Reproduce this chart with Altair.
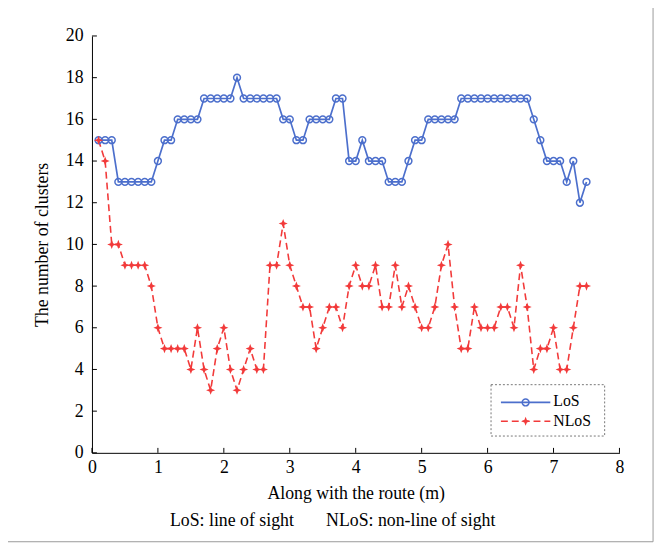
import altair as alt
import pandas as pd

# ---- data ----
x_vals = [0.1, 0.2, 0.3, 0.4, 0.5, 0.6, 0.7, 0.8, 0.9, 1.0,
          1.1, 1.2, 1.3, 1.4, 1.5, 1.6, 1.7, 1.8, 1.9, 2.0,
          2.1, 2.2, 2.3, 2.4, 2.5, 2.6, 2.7, 2.8, 2.9, 3.0,
          3.1, 3.2, 3.3, 3.4, 3.5, 3.6, 3.7, 3.8, 3.9, 4.0,
          4.1, 4.2, 4.3, 4.4, 4.5, 4.6, 4.7, 4.8, 4.9, 5.0,
          5.1, 5.2, 5.3, 5.4, 5.5, 5.6, 5.7, 5.8, 5.9, 6.0,
          6.1, 6.2, 6.3, 6.4, 6.5, 6.6, 6.7, 6.8, 6.9, 7.0,
          7.1, 7.2, 7.3, 7.4, 7.5]
los = [15, 15, 15, 13, 13, 13, 13, 13, 13, 14,
       15, 15, 16, 16, 16, 16, 17, 17, 17, 17,
       17, 18, 17, 17, 17, 17, 17, 17, 16, 16,
       15, 15, 16, 16, 16, 16, 17, 17, 14, 14,
       15, 14, 14, 14, 13, 13, 13, 14, 15, 15,
       16, 16, 16, 16, 16, 17, 17, 17, 17, 17,
       17, 17, 17, 17, 17, 17, 16, 15, 14, 14,
       14, 13, 14, 12, 13]
nlos = [15, 14, 10, 10, 9, 9, 9, 9, 8, 6,
        5, 5, 5, 5, 4, 6, 4, 3, 5, 6,
        4, 3, 4, 5, 4, 4, 9, 9, 11, 9,
        8, 7, 7, 5, 6, 7, 7, 6, 8, 9,
        8, 8, 9, 7, 7, 9, 7, 8, 7, 6,
        6, 7, 9, 10, 7, 5, 5, 7, 6, 6,
        6, 7, 7, 6, 9, 7, 4, 5, 5, 6,
        4, 4, 6, 8, 8]
series_names = ["LoS", "NLoS"]
x_ticks = [0, 1, 2, 3, 4, 5, 6, 7, 8]
y_ticks = [0, 2, 4, 6, 8, 10, 12, 14, 16, 18, 20]
x_title = "Along with the route (m)"
y_title = "The number of clusters"
caption_1 = "LoS: line of sight"
caption_2 = "NLoS: non-line of sight"

df = pd.DataFrame({
    "x": x_vals + x_vals,
    "y": los + nlos,
    "series": [series_names[0]] * len(los) + [series_names[1]] * len(nlos),
})

FONT = "Liberation Serif, Times New Roman, DejaVu Serif, serif"
BLUE = "#4c6fcc"
RED = "#f23a3a"
STAR = "M0,-1L0.28,-0.28L1,0L0.28,0.28L0,1L-0.28,0.28L-1,0L-0.28,-0.28Z"
W, H = 534, 422

xscale = alt.Scale(domain=[0, 8], nice=False, zero=False)
yscale = alt.Scale(domain=[0, 20], nice=False)

xaxis = alt.Axis(values=x_ticks, format="d", grid=False, ticks=False, domainColor="black",
                 labelFont=FONT, labelFontSize=18, labelColor="black", labelPadding=6,
                 labelFlush=False, title=x_title, titleFont=FONT, titleFontSize=18,
                 titleFontWeight="normal", titleColor="black", titlePadding=8)
yaxis = alt.Axis(values=y_ticks, format="d", grid=False, ticks=False, domainColor="black",
                 labelFont=FONT, labelFontSize=18, labelColor="black", labelPadding=9,
                 labelFlush=False, title=y_title, titleFont=FONT, titleFontSize=18,
                 titleFontWeight="normal", titleColor="black", titlePadding=14)

base = alt.Chart(df)

los_line = base.transform_filter(alt.datum.series == "LoS").mark_line(
    color=BLUE, strokeWidth=1.7).encode(
    x=alt.X("x:Q", scale=xscale, axis=xaxis),
    y=alt.Y("y:Q", scale=yscale, axis=yaxis))
los_pts = base.transform_filter(alt.datum.series == "LoS").mark_point(
    shape="circle", filled=False, size=48, strokeWidth=1.5, color=BLUE, opacity=1).encode(
    x=alt.X("x:Q", scale=xscale), y=alt.Y("y:Q", scale=yscale))
nlos_line = base.transform_filter(alt.datum.series == "NLoS").mark_line(
    color=RED, strokeWidth=1.6, strokeDash=[7, 4]).encode(
    x=alt.X("x:Q", scale=xscale), y=alt.Y("y:Q", scale=yscale))
nlos_pts = base.transform_filter(alt.datum.series == "NLoS").mark_point(
    shape=STAR, filled=True, size=85, color=RED, opacity=1).encode(
    x=alt.X("x:Q", scale=xscale), y=alt.Y("y:Q", scale=yscale))

# inward ticks
yt = alt.Chart(pd.DataFrame({"y": y_ticks})).mark_rule(color="black", strokeWidth=1).encode(
    y=alt.Y("y:Q", scale=yscale), x=alt.value(0), x2=alt.value(5))
xt = alt.Chart(pd.DataFrame({"x": x_ticks})).mark_rule(color="black", strokeWidth=1).encode(
    x=alt.X("x:Q", scale=xscale), y=alt.value(H), y2=alt.value(H - 5))

# legend (manual)
one = pd.DataFrame({"a": [0]})
leg_box = alt.Chart(one).mark_rect(fill="white", stroke="#777777", strokeWidth=1,
                                   strokeDash=[2, 2]).encode(
    x=alt.value(404), x2=alt.value(519), y=alt.value(353), y2=alt.value(405))
leg_l1 = alt.Chart(one).mark_rule(color=BLUE, strokeWidth=1.7).encode(
    x=alt.value(414), x2=alt.value(464), y=alt.value(371))
leg_p1 = alt.Chart(one).mark_point(shape="circle", filled=False, size=48, strokeWidth=1.5,
                                   color=BLUE, opacity=1).encode(x=alt.value(439), y=alt.value(371))
leg_l2 = alt.Chart(one).mark_rule(color=RED, strokeWidth=1.6, strokeDash=[7, 4]).encode(
    x=alt.value(414), x2=alt.value(464), y=alt.value(390))
leg_p2 = alt.Chart(one).mark_point(shape=STAR, filled=True, size=85, color=RED,
                                   opacity=1).encode(x=alt.value(439), y=alt.value(390))
leg_t = alt.Chart(pd.DataFrame({"t": series_names, "k": [0, 1]}))
leg_t1 = leg_t.transform_filter(alt.datum.k == 0).mark_text(
    font=FONT, fontSize=16, align="left", baseline="middle", color="black").encode(
    x=alt.value(467), y=alt.value(370), text="t:N")
leg_t2 = leg_t.transform_filter(alt.datum.k == 1).mark_text(
    font=FONT, fontSize=16, align="left", baseline="middle", color="black").encode(
    x=alt.value(467), y=alt.value(390), text="t:N")

# caption
cap = alt.Chart(pd.DataFrame({"t": [caption_1, caption_2], "k": [0, 1]}))
cap1 = cap.transform_filter(alt.datum.k == 0).mark_text(
    font=FONT, fontSize=18, align="left", baseline="middle", color="black").encode(
    x=alt.value(79), y=alt.value(491), text="t:N")
cap2 = cap.transform_filter(alt.datum.k == 1).mark_text(
    font=FONT, fontSize=18, align="left", baseline="middle", color="black").encode(
    x=alt.value(237), y=alt.value(491), text="t:N")

# figure frame (right and bottom edges)
frame_r = alt.Chart(one).mark_rule(color="#999999", strokeWidth=1).encode(
    x=alt.value(568), y=alt.value(-33), y2=alt.value(512))
frame_b = alt.Chart(one).mark_rule(color="#999999", strokeWidth=1).encode(
    x=alt.value(-93), x2=alt.value(568), y=alt.value(512))

chart = alt.layer(
    los_line, nlos_line, los_pts, nlos_pts, yt, xt,
    leg_box, leg_l1, leg_l2, leg_p1, leg_p2, leg_t1, leg_t2,
    cap1, cap2, frame_r, frame_b
).properties(
    width=W, height=H,
    autosize=alt.AutoSizeParams(type="none"),
    padding={"left": 85, "top": 25, "right": 38, "bottom": 92},
).configure_view(stroke=None)

chart.save("out.html", embed_options={"renderer": "svg", "actions": False})
